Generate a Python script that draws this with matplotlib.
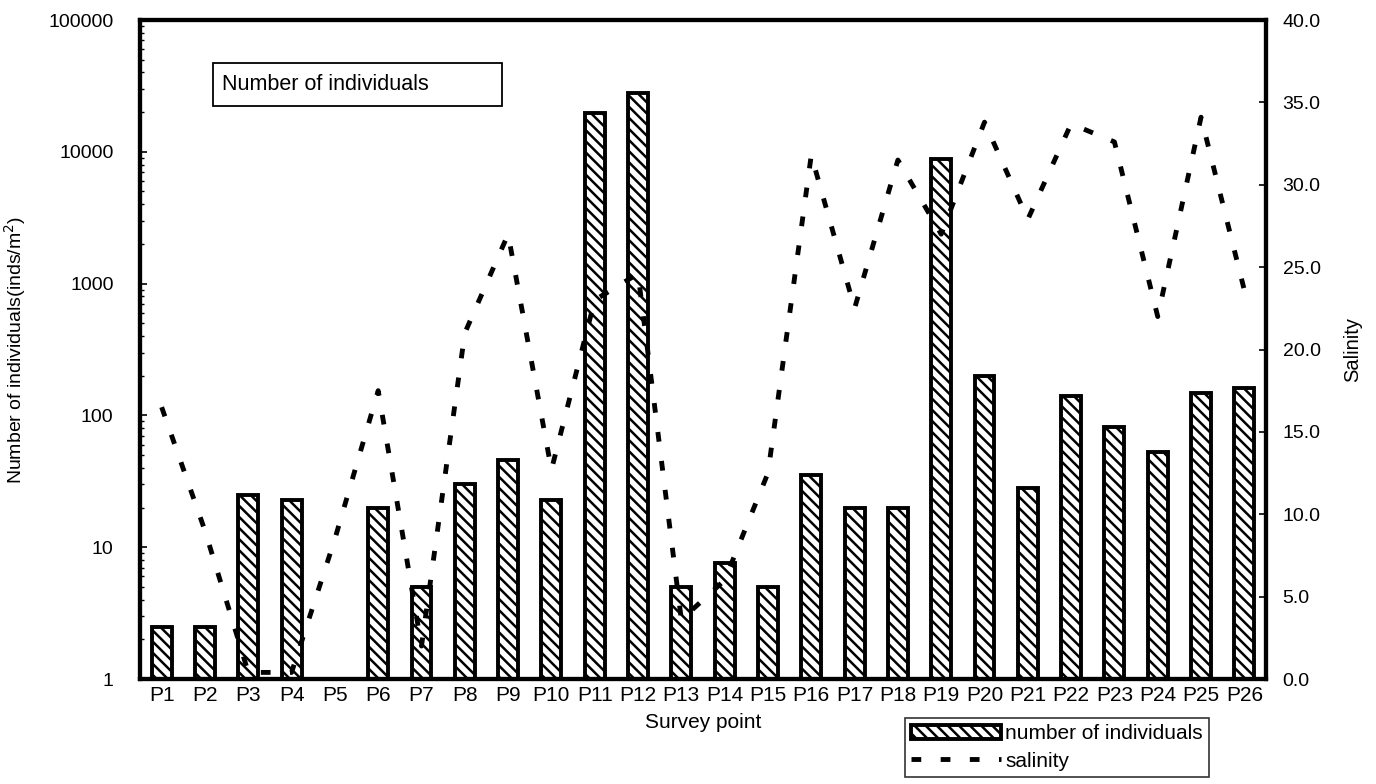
import numpy as np
import matplotlib
matplotlib.use("Agg")
import matplotlib.pyplot as plt
from matplotlib.patches import Rectangle
from matplotlib.ticker import FixedLocator, FixedFormatter, NullFormatter

points = ["P%d" % i for i in range(1, 27)]
individuals = [2.5, 2.5, 25, 23, np.nan, 20, 5, 30, 46, 23, 19600, 28000, 5, 7.6, 5,
               35, 20, 20, 8800, 200, 28, 140, 81, 53, 147, 162]
salinity = [16.5, 9.0, 0.4, 0.4, 8.5, 17.5, 2.0, 21.0, 27.0, 12.7, 23.0, 24.6, 3.6, 6.0, 12.5,
            31.8, 22.5, 31.5, 27.0, 33.8, 27.9, 33.7, 32.6, 22.0, 34.1, 23.6]
left_ticks = [1, 10, 100, 1000, 10000, 100000]
right_ticks = [0, 5, 10, 15, 20, 25, 30, 35, 40]

plt.rcParams['font.family'] = ['Liberation Sans', 'DejaVu Sans']
plt.rcParams['hatch.linewidth'] = 1.8

fig = plt.figure(figsize=(13.76, 7.84), dpi=100)
ax = fig.add_axes([140/1376, 1-679/784, (1266-140)/1376, (679-20)/784])
x = np.arange(len(points))

bars = ax.bar(x, individuals, width=0.46, facecolor='white', edgecolor='black',
              linewidth=2.8, hatch='\\\\\\', label='number of individuals', zorder=2)
ax.set_yscale('log')
ax.set_ylim(1, 100000)
ax.set_xlim(-0.5, len(points) - 0.5)
ax.yaxis.set_major_locator(FixedLocator(left_ticks))
ax.yaxis.set_major_formatter(FixedFormatter([str(v) for v in left_ticks]))
ax.yaxis.set_minor_formatter(NullFormatter())
ax.set_xticks(x)
ax.set_xticklabels(points, fontsize=15)
ax.tick_params(axis='x', length=0, pad=5)
ax.tick_params(axis='y', which='major', direction='in', length=5, width=1.2,
               labelsize=14, pad=19)
ax.tick_params(axis='y', which='minor', direction='in', length=3, width=1)
ax.set_xlabel("Survey point", fontsize=15, labelpad=6)
ax.set_ylabel("Number of individuals(inds/m$^2$)", fontsize=14)
ax.yaxis.set_label_coords((28 - 140) / 1126, 0.5)
for s in ax.spines.values():
    s.set_linewidth(3)

ax2 = ax.twinx()
line, = ax2.plot(x, salinity, color='black', linewidth=3.5,
                 linestyle=(0, (2.0, 4.0)), label='salinity', zorder=3)
ax2.set_ylim(0, 40)
ax2.set_yticks(right_ticks)
ax2.set_yticklabels(["%.1f" % v for v in right_ticks])
ax2.tick_params(axis='y', direction='in', length=5, width=1.2, labelsize=14, pad=12)
ax2.set_ylabel("Salinity", fontsize=14.5)
ax2.yaxis.set_label_coords((1343 - 140) / 1126, 0.5)
for s in ax2.spines.values():
    s.set_linewidth(3)

box_x0, box_x1 = (213-140)/1126, (502-140)/1126
box_y0, box_y1 = (679-106)/659, (679-63)/659
ax.add_patch(Rectangle((box_x0, box_y0), box_x1 - box_x0, box_y1 - box_y0,
                       transform=ax.transAxes, facecolor='white', edgecolor='black',
                       linewidth=1.3, zorder=5))
ax.text(box_x0 + 0.008, (box_y0 + box_y1) / 2, "Number of individuals",
        transform=ax.transAxes, fontsize=15.5, va='center', ha='left', zorder=6)

leg = fig.legend([bars, line], ['number of individuals', 'salinity'],
                 loc='upper left', bbox_to_anchor=(905/1376, 1-718/784),
                 frameon=True, fancybox=False, edgecolor='black', fontsize=15,
                 handlelength=4.3, handletextpad=0.2, borderaxespad=0, borderpad=0.3,
                 labelspacing=0.4)
leg.get_frame().set_linewidth(1.2)

fig.savefig("out.png", dpi=100)
